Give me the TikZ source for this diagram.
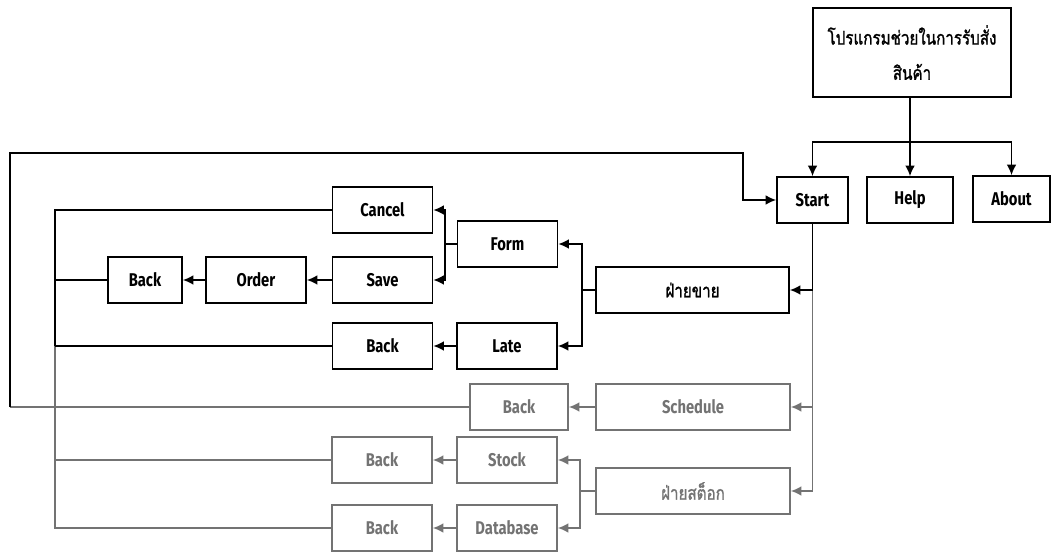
\documentclass[tikz,border=0pt]{standalone}
\usepackage{fontspec}
\setmainfont[FakeStretch=0.8]{Fira Sans}
\newfontfamily\thaifont[Script=Thai,FakeStretch=0.8,FakeBold=1.2]{Loma}
\usetikzlibrary{arrows.meta}

\tikzstyle{every node}=[font=\fontsize{10.5}{12}\selectfont\bfseries]
\tikzstyle{box}=[draw, line width=0.9pt, minimum width=2cm, minimum height=0.92cm, inner sep=0pt]
\tikzstyle{thai}=[font=\fontsize{10.8}{12}\thaifont]
\tikzstyle{faded}=[color=black!55]
\tikzstyle{link}=[line width=1pt]
\tikzstyle{arr}=[link, -{Latex[length=6pt,width=5.5pt]}]

\begin{document}
\begin{tikzpicture}[x=0.02cm, y=-0.02cm]
    \useasboundingbox (0,0) rectangle (1053,553);
    % main menu
    \node[box, thai, minimum width=3.96cm, minimum height=1.78cm, align=center] (prog) at (912,52.5) {โปรแกรมช่วยในการรับสั่ง\\[8pt]สินค้า};
    \node[box, minimum width=1.42cm] (start) at (812.5,200) {Start};
    \node[box, minimum width=1.72cm] (help) at (910,200) {Help};
    \node[box, minimum width=1.54cm] (about) at (1011.5,199) {About};
    % sales
    \node[box, thai, minimum width=3.86cm] (sales) at (692.5,290) {ฝ่ายขาย};
    \node[box] (form) at (507.5,244) {Form};
    \node[box] (late) at (507,346) {Late};
    \node[box] (cancel) at (382.5,210) {Cancel};
    \node[box] (save) at (382.5,280) {Save};
    \node[box] (order) at (256,280) {Order};
    \node[box, minimum width=1.48cm] (back1) at (145,280) {Back};
    \node[box] (back2) at (382.5,346) {Back};
    % stock
    \begin{scope}[faded]
    \node[box, minimum width=3.88cm] (sched) at (693,407) {Schedule};
    \node[box, minimum width=1.96cm] (back3) at (519,407) {Back};
    \node[box, thai, minimum width=3.88cm] (stockdept) at (693,491) {ฝ่ายสต็อก};
    \node[box] (stock) at (507,460) {Stock};
    \node[box] (db) at (507,528) {Database};
    \node[box] (back4) at (382,460) {Back};
    \node[box] (back5) at (382,528) {Back};
    \end{scope}

    \coordinate (t1) at (910,142);
    \coordinate (s1) at (582,290);
    \coordinate (s2) at (445,244);
    \coordinate (k1) at (580,491);
    \coordinate (bt) at (55,210);
    \coordinate (bm) at (55,346);
    \coordinate (bb) at (55,528);
    \coordinate (o1) at (10,407);
    \coordinate (o2) at (10,153);
    \coordinate (o3) at (743,153);

    \draw[link] (t1 |- prog.south) -- (t1);
    \draw[arr] (t1) -| (start.north);
    \draw[arr] (t1) -- (help.north);
    \draw[arr] (t1) -| (about.north);

    \begin{scope}[faded]
    \draw[arr] (start.south) |- (sched.east);
    \draw[arr] (start.south) |- (stockdept.east);
    \draw[link] (stockdept.west) -- (k1);
    \draw[arr] (k1) |- (stock.east);
    \draw[arr] (k1) |- (db.east);
    \draw[link] (back3.west) -- (o1);
    \draw[link] (bm) -- (bb) -- (back5.west);
    \draw[link] (back4.west) -- (back4.west -| bt);
    \path[draw,arr]
    (sched) edge (back3)
    (stock) edge (back4)
    (db) edge (back5)
    ;
    \end{scope}

    \draw[arr] (start.south) |- (sales.east);
    \draw[link] (sales.west) -- (s1);
    \draw[arr] (s1) |- (form.east);
    \draw[arr] (s1) |- (late.east);
    \draw[link] (form.west) -- (s2);
    \draw[arr] (s2) |- (cancel.east);
    \draw[arr] (s2) |- (save.east);
    \path[draw,arr]
    (save) edge (order)
    (order) edge (back1)
    (late) edge (back2)
    ;
    \draw[link] (cancel.west) -- (bt) -- (bm);
    \draw[link] (back1.west) -- (back1.west -| bt);
    \draw[link] (back2.west) -- (back2.west -| bt);
    \draw[arr] (o1) -- (o2) -- (o3) |- (start.west);
\end{tikzpicture}
\end{document}
